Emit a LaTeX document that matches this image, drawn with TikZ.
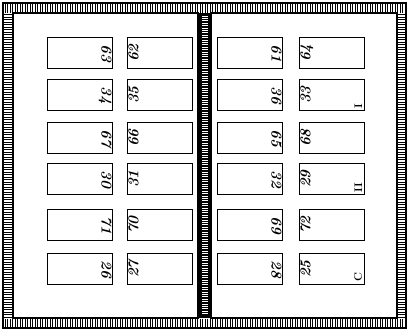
\documentclass[tikz,border=0pt]{standalone}
\usepackage{tikz}
\usetikzlibrary{positioning,calc}

\tikzset{
  pagebox/.style={draw, line width=1.5pt, minimum width=65pt, minimum height=31pt, inner sep=0pt},
  folio/.style={font=\fontsize{15}{15}\selectfont\itshape\bfseries, inner sep=1.5pt},
  sigmark/.style={font=\fontsize{11}{11}\selectfont\bfseries, inner sep=1pt, rotate=90},
  tick/.style={line width=0.8pt},
  rim/.style={line width=1.4pt},
}

\begin{document}
\begin{tikzpicture}[x=1pt, y=-1pt]
  \useasboundingbox (0,0) rectangle (408,330);

  % chase and hatched rims
  \draw[rim] (3,3) rectangle (406,328);
  \draw[rim] (13,13) rectangle (198,318);
  \draw[rim] (211,13) rectangle (397,318);
  \foreach \x in {5,7.5,...,404} {
    \draw[tick] (\x,4) -- (\x,12.5);
    \draw[tick] (\x,318.5) -- (\x,327);
  }
  \foreach \y in {14.5,17,...,317} {
    \draw[tick] (4,\y) -- (12.5,\y);
    \draw[tick] (397.5,\y) -- (406,\y);
  }

  % middle bar
  \fill (198,13) rectangle (211,318);
  \foreach \y in {16,18.4,...,315}
    \draw[white, line width=0.9pt] (202,\y) -- (208,\y);

  % pages: row / y / left page (a,b) / right page (c,d)
  \foreach \r/\y/\a/\b/\c/\d in {1/53/63/62/61/64, 2/95/34/35/36/33,
      3/138/67/66/65/68, 4/179/30/31/32/29, 5/225/71/70/69/72, 6/269/26/27/28/25} {
    \node[pagebox] (pa\r) at (80,\y) {};
    \node[pagebox] (pb\r) at (160,\y) {};
    \node[pagebox] (pc\r) at (250,\y) {};
    \node[pagebox] (pd\r) at (332,\y) {};
    \node[folio, rotate=-90, anchor=north] (na\r) at (pa\r.east) {\a};
    \node[folio, rotate=90, anchor=north] (nb\r) at (pb\r.west) {\b};
    \node[folio, rotate=-90, anchor=north] (nc\r) at (pc\r.east) {\c};
    \node[folio, rotate=90, anchor=north] (nd\r) at (pd\r.west) {\d};
  }

  % signature marks
  \node[sigmark, anchor=south west] (sig1) at ($(pd2.south east)+(-2,-2)$) {I};
  \node[sigmark, anchor=south west] (sig2) at ($(pd4.south east)+(-2,-2)$) {II};
  \node[sigmark, anchor=south west] (sig3) at ($(pd6.south east)+(-2,-3)$) {C};
\end{tikzpicture}
\end{document}
